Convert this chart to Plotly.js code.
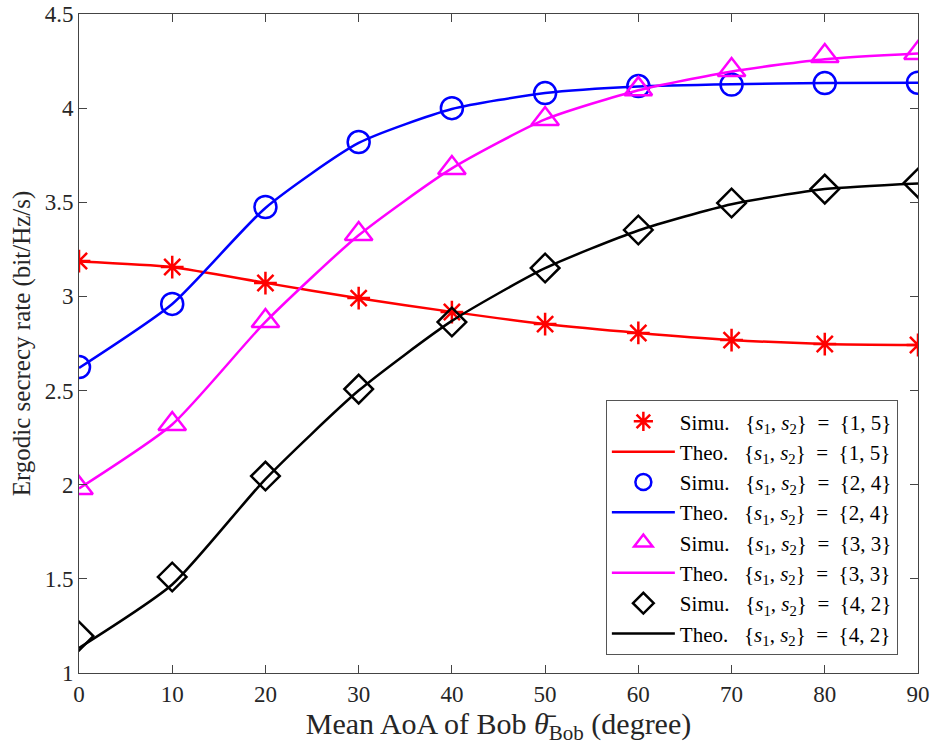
<!DOCTYPE html>
<html><head><meta charset="utf-8">
<script src="https://cdn.plot.ly/plotly-3.0.1.min.js"></script>
<style>body{margin:0;background:#fff}#chart{width:933px;height:751px}</style>
</head><body><div id="chart"></div>
<script>
const angles = [0,10,20,30,40,50,60,70,80,90];
const simu15 = [3.188,3.156,3.071,2.991,2.917,2.853,2.806,2.768,2.747,2.742];
const theo15 = [3.185,3.155,3.072,2.990,2.918,2.853,2.806,2.769,2.748,2.742];
const simu24 = [2.625,2.960,3.475,3.820,4.000,4.080,4.117,4.125,4.133,4.135];
const theo24 = [2.620,2.960,3.470,3.815,3.995,4.080,4.115,4.127,4.133,4.135];
const simu33 = [1.982,2.322,2.869,3.331,3.682,3.942,4.101,4.202,4.277,4.293];
const theo33 = [1.980,2.320,2.865,3.325,3.680,3.940,4.095,4.195,4.260,4.290];
const simu42 = [1.196,1.510,2.046,2.508,2.864,3.151,3.353,3.496,3.570,3.602];
const theo42 = [1.133,1.470,2.030,2.500,2.870,3.150,3.350,3.490,3.570,3.600];
const labels = ["{1,&nbsp;5}","{2,&nbsp;4}","{3,&nbsp;3}","{4,&nbsp;2}"];
const colors = ["#ff0000","#0000ff","#ff00ff","#000000"];
const symbols = ["asterisk-open","circle-open","triangle-up-open","diamond-open"];
const msizes = [19,22,24,22];
const simus = [simu15,simu24,simu33,simu42];
const theos = [theo15,theo24,theo33,theo42];
const sset = "&nbsp;&nbsp;&nbsp;{<i>s</i><sub>1</sub>,&nbsp;<i>s</i><sub>2</sub>}&nbsp;&nbsp;=&nbsp;&nbsp;";
const traces = [];
for (let i=0;i<4;i++){
  traces.push({x:angles,y:simus[i],mode:'markers',name:'Simu.'+sset+labels[i],
    marker:{symbol:symbols[i],size:msizes[i],color:colors[i],line:{color:colors[i],width:2.5}}});
  traces.push({x:angles,y:theos[i],mode:'lines',name:'Theo.'+sset+labels[i],
    line:{color:colors[i],width:2.5,shape:'spline',smoothing:0.6}});
}
const fam = '"Liberation Serif", "Times New Roman", serif';
const axfont = {family:fam,size:23,color:'#262626'};
const layout = {
  width:933,height:751,
  margin:{l:79,r:15,t:14,b:78},
  paper_bgcolor:'#fff',plot_bgcolor:'#fff',
  font:axfont,
  showlegend:true,
  xaxis:{range:[0,90],tickvals:angles,ticks:'inside',ticklen:8,tickcolor:'#444',
    showline:true,linecolor:'#444',linewidth:1,mirror:'ticks',showgrid:false,zeroline:false,
    tickfont:axfont,
    title:{text:'Mean AoA of Bob <i>θ̄</i><sub>Bob</sub> (degree)',font:{family:fam,size:30,color:'#262626'},standoff:4}},
  yaxis:{range:[1,4.5],tickvals:[1,1.5,2,2.5,3,3.5,4,4.5],ticktext:['1','1.5','2','2.5','3','3.5','4','4.5'],
    ticks:'inside',ticklen:8,tickcolor:'#444',
    showline:true,linecolor:'#444',linewidth:1,mirror:'ticks',showgrid:false,zeroline:false,
    tickfont:axfont,
    title:{text:'Ergodic secrecy rate (bit/Hz/s)',font:{family:fam,size:25,color:'#262626'},standoff:6}},
  legend:{x:0.976,y:0.027,xanchor:'right',yanchor:'bottom',bgcolor:'#fff',bordercolor:'#555',borderwidth:1,
    font:{family:fam,size:21,color:'#000'},tracegroupgap:0,itemwidth:63}
};
Plotly.newPlot('chart',traces,layout,{displayModeBar:false,staticPlot:true});
</script></body></html>
